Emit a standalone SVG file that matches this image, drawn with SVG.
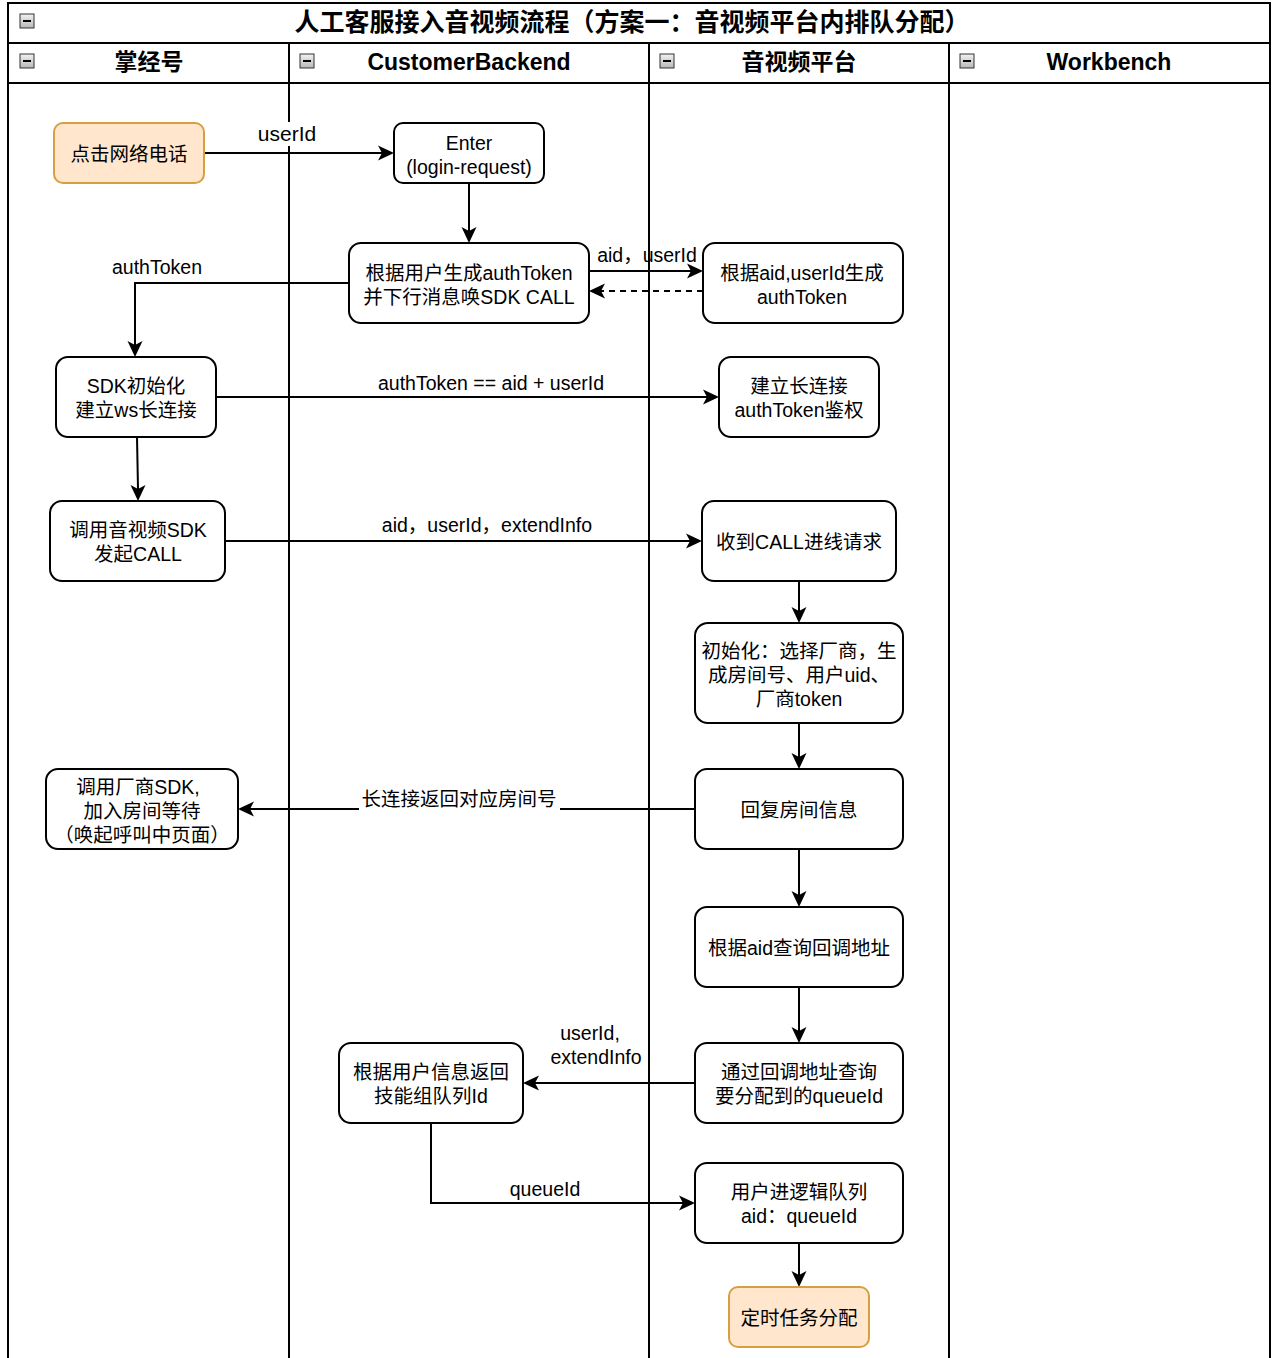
<svg xmlns="http://www.w3.org/2000/svg" width="1280" height="1358" viewBox="0 0 1280 1358">
<defs>
<path id="ah" d="M0,0 L-16,-7.5 L-12,0 L-16,7.5 z" fill="#000"/>
<linearGradient id="ig" x1="0" y1="0" x2="0" y2="1">
<stop offset="0" stop-color="#f2f2f2"/>
<stop offset="1" stop-color="#b8b8b8"/>
</linearGradient>
</defs>
<style>
text{font-family:"Liberation Sans","Noto Sans CJK SC",Arial,sans-serif;fill:#000;text-anchor:middle}
.t{font-size:19.5px}
.lb{font-size:19.5px}
.title{font-size:25px;font-weight:bold}
.hd{font-size:23px;font-weight:bold}
.n{fill:#fff;stroke:#000;stroke-width:2}
.o{fill:#ffe6cc;stroke:#d6a040;stroke-width:2}
.ln{fill:none;stroke:#000;stroke-width:2}
.c{fill:none;stroke:#000;stroke-width:2}
.ic{fill:url(#ig);stroke:#333;stroke-width:1}
</style>
<rect x="0" y="0" width="1280" height="1358" fill="#fff"/>
<g id="frame">
<rect x="8" y="3" width="1262" height="1360" fill="#fff" stroke="#000" stroke-width="2"/>
<line class="ln" x1="8" y1="43" x2="1270" y2="43"/>
<line class="ln" x1="8" y1="83" x2="1270" y2="83"/>
<line class="ln" x1="289" y1="43" x2="289" y2="1360"/>
<line class="ln" x1="649" y1="43" x2="649" y2="1360"/>
<line class="ln" x1="949" y1="43" x2="949" y2="1360"/>
<text class="title" x="632" y="31">人工客服接入音视频流程（方案一：音视频平台内排队分配）</text>
<text class="hd" x="149" y="70">掌经号</text>
<text class="hd" x="469" y="70">CustomerBackend</text>
<text class="hd" x="799" y="70">音视频平台</text>
<text class="hd" x="1109" y="70">Workbench</text>
<g id="icons">
<rect class="ic" x="20" y="14" width="14" height="14"/><line x1="23" y1="21" x2="31" y2="21" stroke="#000" stroke-width="2"/>
<rect class="ic" x="20" y="54" width="14" height="14"/><line x1="23" y1="61" x2="31" y2="61" stroke="#000" stroke-width="2"/>
<rect class="ic" x="300" y="54" width="14" height="14"/><line x1="303" y1="61" x2="311" y2="61" stroke="#000" stroke-width="2"/>
<rect class="ic" x="660" y="54" width="14" height="14"/><line x1="663" y1="61" x2="671" y2="61" stroke="#000" stroke-width="2"/>
<rect class="ic" x="960" y="54" width="14" height="14"/><line x1="963" y1="61" x2="971" y2="61" stroke="#000" stroke-width="2"/>
</g>
</g>
<g id="connectors">
<path class="c" d="M204,153 L382,153"/>
<use href="#ah" transform="translate(394,153)"/>
<rect x="255" y="122" width="64" height="24" fill="#fff"/>
<text class="lb" x="287" y="141" style="font-size:21px">userId</text>
<path class="c" d="M469,183 L469,231"/>
<use href="#ah" transform="translate(469,243) rotate(90)"/>
<path class="c" d="M349,283 L135,283 L135,345"/>
<use href="#ah" transform="translate(135,357) rotate(90)"/>
<text class="lb" x="157" y="274">authToken</text>
<path class="c" d="M589,271 L691,271"/>
<use href="#ah" transform="translate(703,271)"/>
<text class="lb" x="647" y="262">aid，userId</text>
<path class="c" d="M703,291 L601,291" stroke-dasharray="6,5"/>
<use href="#ah" transform="translate(589,291) rotate(180)"/>
<path class="c" d="M216,397 L707,397"/>
<use href="#ah" transform="translate(719,397)"/>
<text class="lb" x="491" y="390">authToken == aid + userId</text>
<path class="c" d="M137,437 L138,489"/>
<use href="#ah" transform="translate(138,501) rotate(90)"/>
<path class="c" d="M225,541 L690,541"/>
<use href="#ah" transform="translate(702,541)"/>
<text class="lb" x="487" y="532">aid，userId，extendInfo</text>
<path class="c" d="M799,581 L799,611"/>
<use href="#ah" transform="translate(799,623) rotate(90)"/>
<path class="c" d="M799,723 L799,757"/>
<use href="#ah" transform="translate(799,769) rotate(90)"/>
<path class="c" d="M695,809 L250,809"/>
<use href="#ah" transform="translate(238,809) rotate(180)"/>
<rect x="359" y="788" width="201" height="22" fill="#fff"/>
<text class="lb" x="459" y="806">长连接返回对应房间号</text>
<path class="c" d="M799,849 L799,895"/>
<use href="#ah" transform="translate(799,907) rotate(90)"/>
<path class="c" d="M799,987 L799,1031"/>
<use href="#ah" transform="translate(799,1043) rotate(90)"/>
<path class="c" d="M695,1083 L535,1083"/>
<use href="#ah" transform="translate(523,1083) rotate(180)"/>
<text class="lb" x="590" y="1040">userId,</text>
<text class="lb" x="596" y="1064">extendInfo</text>
<path class="c" d="M431,1123 L431,1203 L683,1203"/>
<use href="#ah" transform="translate(695,1203)"/>
<text class="lb" x="545" y="1196">queueId</text>
<path class="c" d="M799,1243 L799,1275"/>
<use href="#ah" transform="translate(799,1287) rotate(90)"/>
</g>
<g id="n1"><rect class="o" x="54" y="123" width="150" height="60" rx="9"/><text class="t" x="129" y="161">点击网络电话</text></g>
<g id="n2"><rect class="n" x="394" y="123" width="150" height="60" rx="9"/><text class="t" x="469" y="150">Enter</text><text class="t" x="469" y="174">(login-request)</text></g>
<g id="n3"><rect class="n" x="349" y="243" width="240" height="80" rx="12"/><text class="t" x="469" y="280">根据用户生成authToken</text><text class="t" x="469" y="304">并下行消息唤SDK CALL</text></g>
<g id="n4"><rect class="n" x="703" y="243" width="200" height="80" rx="12"/><text class="t" x="802" y="280">根据aid,userId生成</text><text class="t" x="802" y="304">authToken</text></g>
<g id="n5"><rect class="n" x="56" y="357" width="160" height="80" rx="12"/><text class="t" x="136" y="393">SDK初始化</text><text class="t" x="136" y="417">建立ws长连接</text></g>
<g id="n6"><rect class="n" x="719" y="357" width="160" height="80" rx="12"/><text class="t" x="799" y="393">建立长连接</text><text class="t" x="799" y="417">authToken鉴权</text></g>
<g id="n7"><rect class="n" x="50" y="501" width="175" height="80" rx="12"/><text class="t" x="138" y="537">调用音视频SDK</text><text class="t" x="138" y="561">发起CALL</text></g>
<g id="n8"><rect class="n" x="702" y="501" width="194" height="80" rx="12"/><text class="t" x="799" y="549">收到CALL进线请求</text></g>
<g id="n9"><rect class="n" x="695" y="623" width="208" height="100" rx="13"/><text class="t" x="799" y="658">初始化：选择厂商，生</text><text class="t" x="799" y="682">成房间号、用户uid、</text><text class="t" x="799" y="706">厂商token</text></g>
<g id="n10"><rect class="n" x="46" y="769" width="192" height="80" rx="12"/><text class="t" x="138" y="794">调用厂商SDK,</text><text class="t" x="142" y="818">加入房间等待</text><text class="t" x="142" y="842">（唤起呼叫中页面）</text></g>
<g id="n11"><rect class="n" x="695" y="769" width="208" height="80" rx="12"/><text class="t" x="799" y="817">回复房间信息</text></g>
<g id="n12"><rect class="n" x="695" y="907" width="208" height="80" rx="12"/><text class="t" x="799" y="955">根据aid查询回调地址</text></g>
<g id="n13"><rect class="n" x="339" y="1043" width="184" height="80" rx="12"/><text class="t" x="431" y="1079">根据用户信息返回</text><text class="t" x="431" y="1103">技能组队列Id</text></g>
<g id="n14"><rect class="n" x="695" y="1043" width="208" height="80" rx="12"/><text class="t" x="799" y="1079">通过回调地址查询</text><text class="t" x="799" y="1103">要分配到的queueId</text></g>
<g id="n15"><rect class="n" x="695" y="1163" width="208" height="80" rx="12"/><text class="t" x="799" y="1199">用户进逻辑队列</text><text class="t" x="799" y="1223">aid：queueId</text></g>
<g id="n16"><rect class="o" x="729" y="1287" width="140" height="60" rx="9"/><text class="t" x="799" y="1325">定时任务分配</text></g>
</svg>
